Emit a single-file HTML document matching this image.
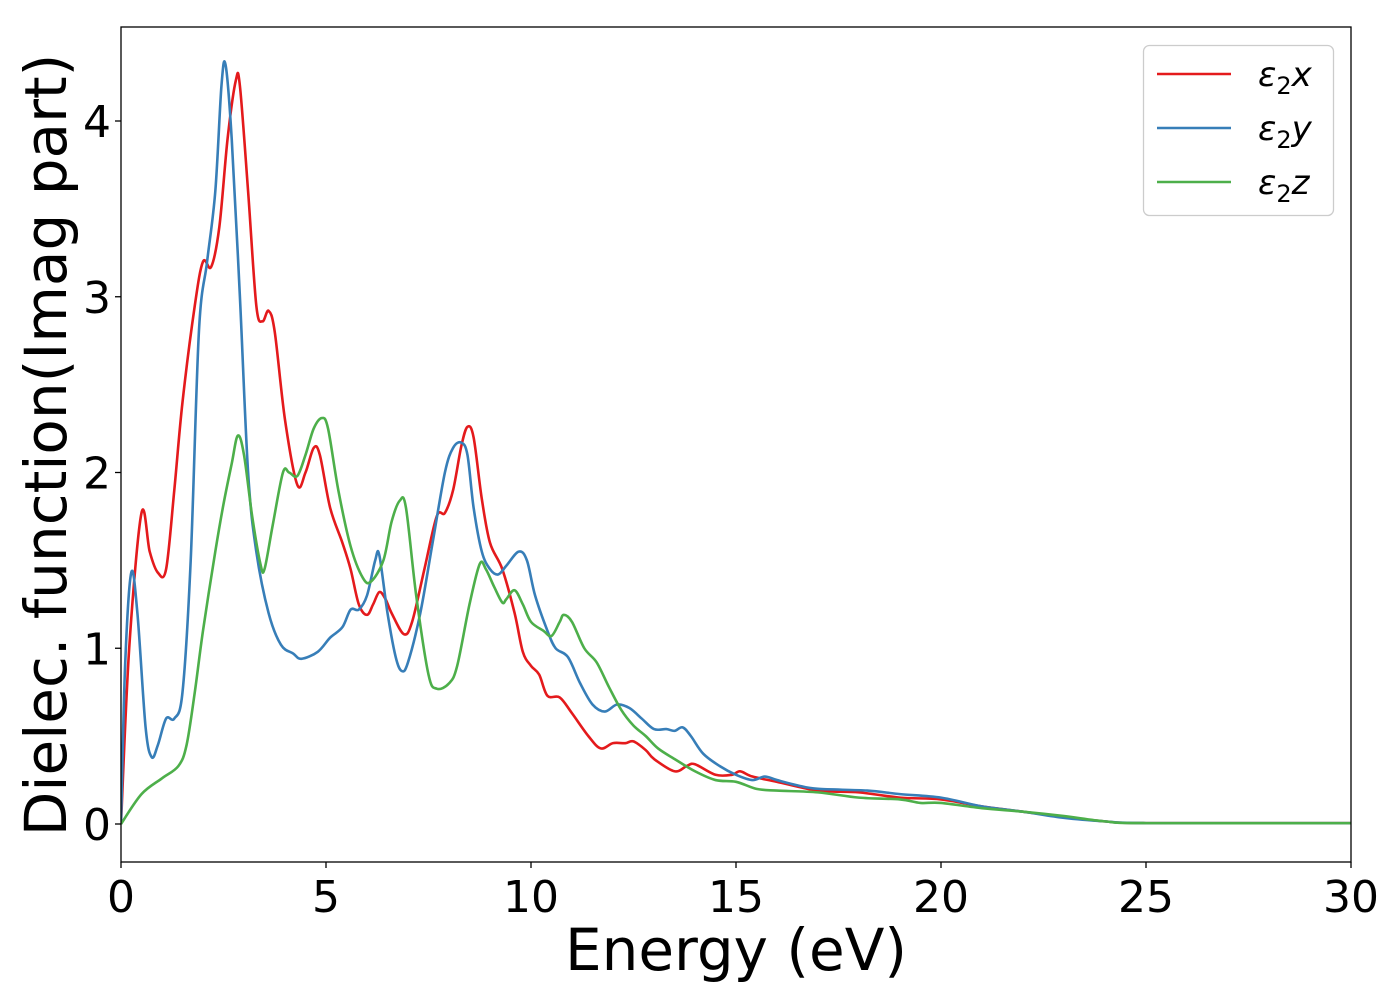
<!DOCTYPE html>
<html><head><meta charset="utf-8"><style>
body{margin:0;background:#fff;}
svg{display:block;font-family:"DejaVu Sans","Liberation Sans",sans-serif;}
</style></head><body>
<svg id="chart" width="1400" height="1000"></svg>
<script>
const xTicks=[0,5,10,15,20,25,30];
const yTicks=[0,1,2,3,4];
const seriesNames=["x","y","z"];
const seriesColors=["#e41a1c","#377eb8","#4daf4a"];
const redE=[0,0.2,0.5,0.7,0.9,1.1,1.3,1.5,1.8,2.0,2.2,2.4,2.6,2.8,2.9,3.1,3.3,3.45,3.6,3.75,4.0,4.3,4.5,4.7,4.85,5.1,5.4,5.6,5.8,6.0,6.15,6.3,6.45,6.6,6.9,7.1,7.4,7.7,7.9,8.1,8.3,8.45,8.6,8.8,9.0,9.3,9.6,9.8,10.0,10.2,10.4,10.7,11.0,11.4,11.7,12.0,12.3,12.5,12.8,13.0,13.5,13.8,14.0,14.5,14.9,15.1,15.4,16,17,18,19,20,21,22,23,24,25,30];
const redV=[0,1.0,1.77,1.55,1.43,1.45,1.9,2.4,2.95,3.2,3.17,3.4,3.9,4.23,4.2,3.6,2.95,2.86,2.92,2.8,2.3,1.93,2.0,2.14,2.1,1.8,1.6,1.45,1.25,1.19,1.25,1.32,1.28,1.2,1.08,1.15,1.45,1.75,1.77,1.9,2.15,2.26,2.2,1.85,1.6,1.45,1.2,0.98,0.9,0.85,0.73,0.72,0.63,0.5,0.43,0.46,0.46,0.47,0.42,0.37,0.3,0.33,0.34,0.28,0.28,0.3,0.27,0.24,0.19,0.18,0.15,0.14,0.1,0.07,0.04,0.015,0.005,0.005];
const blueE=[0,0.1,0.25,0.4,0.6,0.75,0.9,1.1,1.3,1.5,1.7,1.9,2.1,2.3,2.45,2.55,2.7,2.9,3.1,3.3,3.6,3.9,4.2,4.4,4.8,5.1,5.4,5.6,5.8,6.0,6.2,6.3,6.5,6.7,6.85,7.0,7.3,7.6,7.9,8.1,8.3,8.45,8.6,8.8,9.0,9.2,9.4,9.7,9.9,10.1,10.4,10.6,10.9,11.2,11.5,11.8,12.1,12.4,12.7,13.0,13.3,13.5,13.7,13.9,14.2,14.6,15.0,15.4,15.7,16.0,16.5,17,18.2,19,20,21,22,23,24,25,30];
const blueV=[0,0.9,1.43,1.2,0.55,0.38,0.45,0.6,0.6,0.75,1.5,2.8,3.2,3.6,4.2,4.32,3.9,3.0,2.0,1.55,1.2,1.02,0.97,0.94,0.98,1.06,1.12,1.22,1.22,1.3,1.5,1.53,1.2,0.95,0.87,0.92,1.2,1.6,2.0,2.14,2.17,2.1,1.8,1.55,1.45,1.42,1.47,1.55,1.5,1.3,1.1,1.0,0.95,0.8,0.68,0.64,0.68,0.66,0.6,0.54,0.54,0.53,0.55,0.5,0.4,0.33,0.28,0.25,0.27,0.25,0.22,0.2,0.19,0.17,0.15,0.1,0.07,0.035,0.015,0.005,0.005];
const greenE=[0,0.5,1.0,1.4,1.6,1.8,2.0,2.3,2.5,2.7,2.85,3.0,3.2,3.4,3.5,3.7,3.95,4.1,4.3,4.5,4.7,4.9,5.05,5.3,5.6,5.9,6.1,6.4,6.6,6.8,6.95,7.2,7.5,7.7,8.0,8.2,8.5,8.75,8.9,9.1,9.3,9.4,9.6,9.8,10.0,10.3,10.5,10.7,10.8,11.0,11.3,11.6,11.9,12.2,12.5,12.8,13.1,13.5,14.0,14.5,15.0,15.5,16,17,18,19,19.5,20,21,22,23,24,25,30];
const greenV=[0,0.17,0.26,0.33,0.45,0.75,1.1,1.55,1.82,2.05,2.21,2.1,1.75,1.48,1.45,1.7,2.0,2.0,1.98,2.1,2.25,2.31,2.25,1.9,1.58,1.4,1.38,1.5,1.72,1.84,1.8,1.3,0.85,0.77,0.8,0.9,1.25,1.48,1.45,1.35,1.26,1.28,1.33,1.25,1.15,1.1,1.07,1.15,1.19,1.15,1.0,0.92,0.78,0.65,0.56,0.5,0.43,0.37,0.3,0.25,0.24,0.2,0.19,0.18,0.15,0.14,0.12,0.12,0.09,0.07,0.045,0.015,0.005,0.005];

const L=121,R=1351,T=27,B=862;
const X=e=>L+e/30*(R-L);
const Y=v=>824-v*175.75;
const svg=document.getElementById('chart');
const NS='http://www.w3.org/2000/svg';
function mk(tag,attrs,parent){const el=document.createElementNS(NS,tag);for(const k in attrs)el.setAttribute(k,attrs[k]);(parent||svg).appendChild(el);return el;}

const clip=mk('clipPath',{id:'pc'});mk('rect',{x:L,y:T,width:R-L,height:B-T},clip);

function pathFor(E,V){
  const p=E.map((e,i)=>[X(e),Y(V[i])]);
  let d='M'+p[0][0]+','+p[0][1];
  for(let i=0;i<p.length-1;i++){
    const p0=p[i-1]||p[i],p1=p[i],p2=p[i+1],p3=p[i+2]||p2;
    const c1x=p1[0]+(p2[0]-p0[0])/6,c1y=p1[1]+(p2[1]-p0[1])/6;
    const c2x=p2[0]-(p3[0]-p1[0])/6,c2y=p2[1]-(p3[1]-p1[1])/6;
    d+=`C${c1x},${c1y} ${c2x},${c2y} ${p2[0]},${p2[1]}`;
  }
  return d;
}
const data=[[redE,redV],[blueE,blueV],[greenE,greenV]];
const lineNames=['line-eps2x','line-eps2y','line-eps2z'];
data.forEach((s,i)=>{
  const el=mk('path',{d:pathFor(s[0],s[1]),fill:'none',stroke:seriesColors[i],'stroke-width':2.6,'clip-path':'url(#pc)'});
  
  
});

const frame=mk('rect',{x:L,y:T,width:R-L,height:B-T,fill:'none',stroke:'#000','stroke-width':1.3});



xTicks.forEach(t=>{
  mk('line',{x1:X(t),x2:X(t),y1:B,y2:B+6,stroke:'#000','stroke-width':1.3});
  const tx=mk('text',{x:X(t),y:B+50,'font-size':44,'text-anchor':'middle'});
  tx.textContent=t;
  
  
});
yTicks.forEach(t=>{
  mk('line',{x1:L-6,x2:L,y1:Y(t),y2:Y(t),stroke:'#000','stroke-width':1.3});
  const tx=mk('text',{x:L-10,y:Y(t)+16,'font-size':44,'text-anchor':'end'});
  tx.textContent=t;
  
  
});
const xt=mk('text',{x:736,y:970,'font-size':58,'text-anchor':'middle'});
xt.textContent='Energy (eV)';


const yt=mk('text',{x:0,y:0,'font-size':58,'text-anchor':'middle',transform:'translate(64,445) rotate(-90)'});
yt.setAttribute('transform','translate(66,445) rotate(-90)');
yt.textContent='Dielec. function(Imag part)';


yt.setAttribute('transform','translate(46,445) rotate(-90)');
yt.setAttribute('dy','20');

const lg=mk('g',{});


mk('rect',{x:1143.5,y:45.5,width:190,height:170,rx:6,fill:'#fff',stroke:'#ccc','stroke-width':1.3},lg);
seriesNames.forEach((n,i)=>{
  const y=74+i*54;
  const en=mk('g',{},lg);
  
  
  mk('line',{x1:1157,x2:1231,y1:y,y2:y,stroke:seriesColors[i],'stroke-width':2.6},en);
  const t=mk('text',{x:1258,y:y+12,'font-size':34,'font-style':'italic'},en);
  t.innerHTML='ε<tspan font-style="normal" font-size="24" dy="8">2</tspan><tspan dy="-8">'+n+'</tspan>';
});
</script>
</body></html>
